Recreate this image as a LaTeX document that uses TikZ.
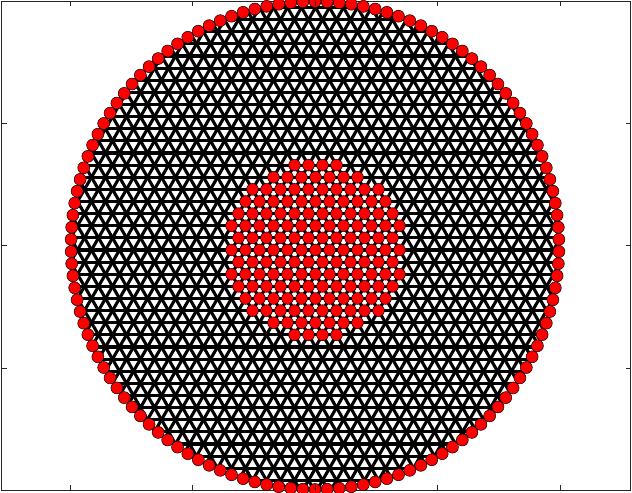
\documentclass[tikz,border=0pt]{standalone}
\begin{document}
\begin{tikzpicture}[x=1bp,y=1bp,
  meshline/.style={line width=3.1bp, black},
  nodedot/.style={fill=red, draw=black, line width=0.5bp},
  framebox/.style={draw=black!85, line width=1bp},
  tickmark/.style={draw=black!85, line width=0.8bp}]
\useasboundingbox (0,0) rectangle (632,493);
\fill[white] (0,0) rectangle (632,493);
% axes frame
\draw[framebox] (1.5,2.5) rectangle (630.5,491.5);
% mesh (triangular lattice clipped to the disk)
\coordinate (C) at (315,247.5);
\begin{scope}
  \clip (C) circle (245);
  \foreach \j in {-21,...,21}
    \draw[meshline] (15, {243+\j*12.124}) -- (615, {243+\j*12.124});
  \foreach \i in {-22,...,22} {
    \draw[meshline] ({315.5+14*\i-154}, {243-266.7}) -- ({315.5+14*\i+154}, {243+266.7});
    \draw[meshline] ({315.5+14*\i+154}, {243-266.7}) -- ({315.5+14*\i-154}, {243+266.7});
  }
\end{scope}
\draw[meshline] (C) circle (244);
% inner disk nodes
\foreach \j in {-8,...,8} {
  \foreach \i in {-11,...,11} {
    \pgfmathtruncatemacro\inside{((14*\i+7*\j)/89)^2+(12.124*\j/89)^2<1 ? 1 : 0}
    \ifnum\inside=1
      \path[nodedot] ({315.5+14*\i+7*\j}, {243+12.124*\j}) circle (5.9);
    \fi
  }
}
% boundary nodes
\foreach \k in {0,...,125}
  \path[nodedot] ({315+244*cos(90+\k*2.857143)}, {247.5+244*sin(90+\k*2.857143)}) circle (6);
% ticks
\foreach \x in {70,192.5,315,437.5,560} {
  \draw[tickmark] (\x,2.5) -- (\x,7.5);
  \draw[tickmark] (\x,491.5) -- (\x,486.5);
}
\foreach \y in {125,247.5,370} {
  \draw[tickmark] (1.5,\y) -- (6.5,\y);
  \draw[tickmark] (630.5,\y) -- (625.5,\y);
}
\end{tikzpicture}
\end{document}
